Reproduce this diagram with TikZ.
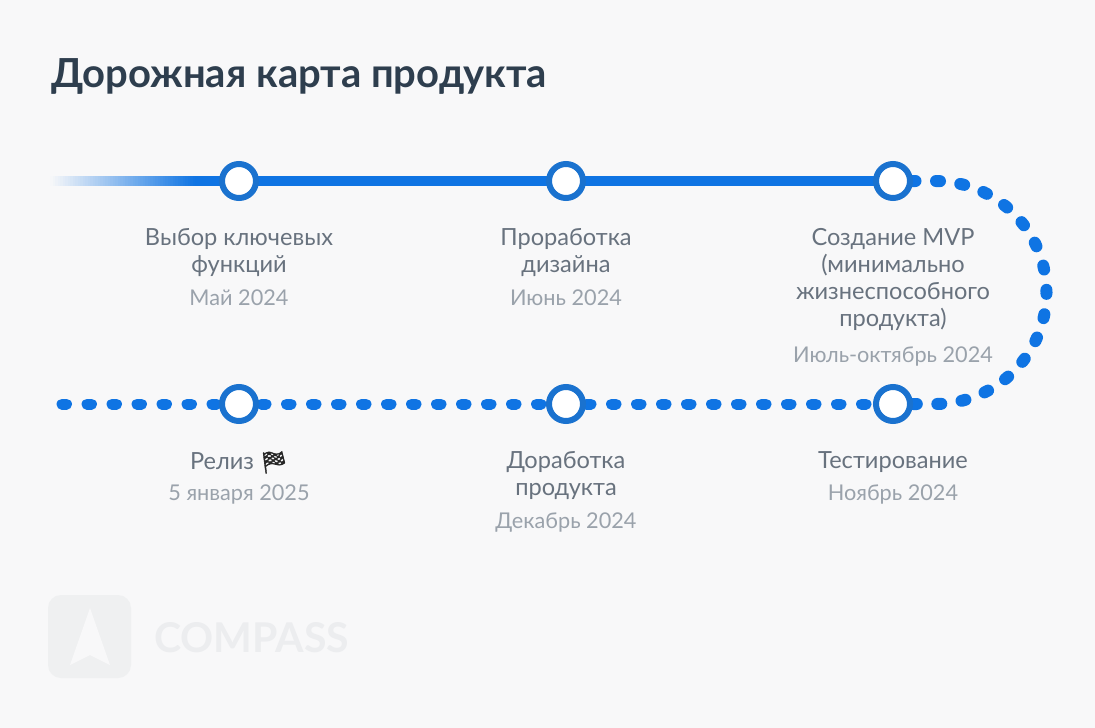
\documentclass[tikz,border=0pt]{standalone}
\usepackage{fontspec}
\setmainfont{Lato}
\newfontfamily\emojifont[FakeBold=1.5]{Noto Emoji}
\usetikzlibrary{backgrounds}
\definecolor{bgc}{HTML}{F8F8F9}
\definecolor{linec}{HTML}{0F74E3}
\definecolor{ringc}{HTML}{1A72CF}
\definecolor{titlec}{HTML}{2E3E4E}
\definecolor{labc}{HTML}{68727E}
\definecolor{datec}{HTML}{9AA2AB}
\definecolor{wmc}{HTML}{EFF0F1}
\definecolor{wmt}{HTML}{ECEDEF}
\tikzset{
  stopdot/.style={circle,draw=ringc,line width=6pt,fill=white,minimum size=34pt,inner sep=0pt},
  solidline/.style={draw=linec,line width=10.5pt},
  dotline/.style={draw=linec,line width=11pt,line cap=round,dash pattern=on 4.5pt off 20.5pt},
  lab/.style={font=\fontsize{23.6}{27}\selectfont,text=labc,align=center,inner sep=0pt,anchor=north},
  datelab/.style={font=\fontsize{21.7}{25}\selectfont,text=datec,inner sep=0pt,anchor=base},
}
\begin{document}
\begin{tikzpicture}[x=1pt,y=-1pt]
\useasboundingbox (0,0) rectangle (1095,728);
\node (n1) [stopdot] at (239,181) {};
\node (n2) [stopdot] at (566,181) {};
\node (n3) [stopdot] at (893,181) {};
\node (n4) [stopdot] at (893,404) {};
\node (n5) [stopdot] at (566,404) {};
\node (n6) [stopdot] at (239,404) {};
\coordinate (fadeend) at (195,181);
\coordinate (finish) at (62,404);
\begin{scope}[on background layer]
  \fill[bgc] (0,0) rectangle (1095,728);
  \foreach \i in {0,...,57} {
    \pgfmathsetmacro{\p}{100*(\i+0.5)/58}
    \fill[linec!\p!bgc] (50+2.5*\i,175.75) rectangle (53+2.5*\i,186.25);
  }
  \draw[solidline] (fadeend) -- (n1.center);
  \draw[solidline] (n1.center) -- (n2.center);
  \draw[solidline] (n2.center) -- (n3.center);
  \draw[dotline,line width=12pt,dash pattern=on 4pt off 20.5pt,dash phase=6pt] (n3.center) -- ++(42,0) arc[start angle=-90,end angle=90,radius=111.5] -- (n4.center);
  \draw[dotline] (finish) -- (n6.center);
  \draw[dotline,dash phase=2.5pt] (n6.center) -- (n5.center);
  \draw[dotline,dash phase=4.5pt] (n5.center) -- (n4.center);
\end{scope}
\node (title) [font=\fontsize{40}{46}\selectfont\bfseries,text=titlec,inner sep=0pt,anchor=base west] at (51,87) {Дорожная карта продукта};
\node (l1) [lab] at (239,228) {Выбор ключевых\\функций};
\node (d1) [datelab] at (239,305) {Май 2024};
\node (l2) [lab] at (566,228) {Проработка\\дизайна};
\node (d2) [datelab] at (566,305) {Июнь 2024};
\node (l3) [lab] at (893,228) {Создание MVP\\(минимально\\жизнеспособного\\продукта)};
\node (d3) [datelab] at (893,362) {Июль-октябрь 2024};
\node (l4) [lab] at (893,451) {Тестирование};
\node (d4) [datelab] at (893,500) {Ноябрь 2024};
\node (l5) [lab] at (566,451) {Доработка\\продукта};
\node (d5) [datelab] at (566,528) {Декабрь 2024};
\node (l6) [lab] at (239,451) {Релиз {\emojifont\fontsize{22}{27}\selectfont\color{black!85} 🏁}};
\node (d6) [datelab] at (239,500) {5 января 2025};
\fill[wmc,rounded corners=13pt] (48,595) rectangle (131,678);
\fill[bgc] (90,608) -- (110,665) -- (90,655) -- (70,665) -- cycle;
\node (wm) [font=\fontsize{41}{46}\selectfont\bfseries,text=wmt,inner sep=0pt,anchor=base west] at (154,652) {COMPASS};
\end{tikzpicture}
\end{document}
